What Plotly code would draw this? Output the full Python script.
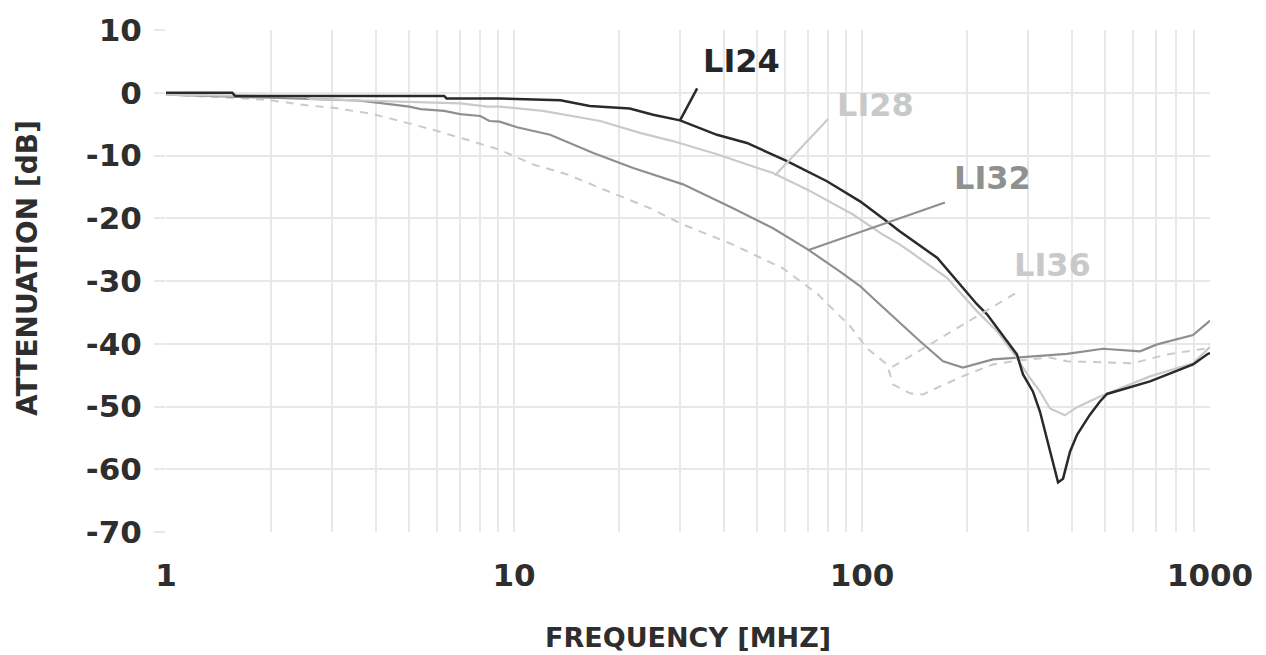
import math
import plotly.graph_objects as go

# ---------------- data (frequency in MHz, attenuation in dB) ----------------
li24_f = [1.0, 1.55, 1.58, 6.3, 6.4, 9.1, 13.6, 16.5, 21.5, 25.1, 30.0, 38.3, 46.7, 60.9, 79.3,
          98.7, 118.0, 128.6, 164.4, 191.3, 213.9, 228.7, 244.3, 266.2, 278.7, 290.2, 309.8,
          324.6, 340.2, 351.6, 365.9, 378.2, 396.0, 414.8, 451.9, 482.8, 505.8, 672.3, 893.8,
          986.8, 1000.0]
li24_db = [0.0, 0.0, -0.5, -0.5, -0.9, -0.9, -1.2, -2.1, -2.5, -3.5, -4.4, -6.7, -8.0, -10.9,
           -14.1, -17.3, -20.5, -22.1, -26.3, -30.6, -33.7, -35.3, -37.4, -40.1, -41.7, -44.9,
           -47.6, -50.8, -55.1, -58.3, -62.1, -61.5, -57.2, -54.5, -51.3, -49.2, -48.0, -46.0,
           -43.3, -41.6, -41.5]

li28_f = [1.0, 2.5, 2.6, 5.0, 7.0, 8.4, 9.1, 12.1, 17.7, 23.0, 28.6, 38.3, 55.5, 69.5, 94.2,
          114.8, 128.6, 137.4, 175.5, 213.9, 244.3, 278.7, 304.0, 324.6, 346.7, 383.0, 414.8,
          482.8, 672.3, 893.8, 986.8, 1000.0]
li28_db = [-0.3, -0.6, -1.0, -1.4, -1.7, -2.2, -2.2, -2.9, -4.5, -6.4, -7.7, -9.8, -12.8, -15.4,
           -19.4, -22.6, -24.2, -25.3, -29.5, -34.8, -38.0, -42.3, -45.5, -47.6, -50.3, -51.4,
           -50.1, -48.4, -45.2, -43.1, -40.7, -40.5]

li32_f = [1.0, 2.5, 3.5, 4.1, 5.0, 5.4, 6.3, 7.0, 8.0, 8.5, 9.1, 10.2, 12.7, 16.9, 22.0, 30.6,
          42.6, 55.5, 70.0, 86.5, 98.7, 110.4, 146.8, 171.0, 195.0, 237.8, 278.7, 388.0,
          492.7, 629.5, 704.6, 893.8, 986.8, 1000.0]
li32_db = [-0.3, -0.9, -1.2, -1.6, -2.2, -2.6, -2.9, -3.4, -3.7, -4.5, -4.6, -5.5, -6.7, -9.6,
           -12.0, -14.6, -18.4, -21.6, -25.0, -28.5, -30.8, -33.3, -39.6, -42.8, -43.8, -42.5,
           -42.2, -41.6, -40.8, -41.2, -40.1, -38.6, -36.6, -36.3]

li36_f = [1.0, 1.56, 2.0, 2.54, 3.02, 3.86, 4.93, 5.85, 7.33, 9.12, 11.3, 14.2, 17.7, 24.6,
          30.6, 42.6, 59.3, 74.3, 92.4, 103.3, 118.0, 122.8, 137.4, 149.6, 167.5, 200.3,
          237.8, 278.7, 346.7, 388.0, 600.6, 751.6, 986.8, 1000.0]
li36_db = [-0.3, -0.8, -1.2, -2.0, -2.4, -3.3, -4.8, -5.9, -7.5, -9.1, -11.4, -13.0, -15.2,
           -18.4, -21.0, -24.2, -28.0, -32.0, -37.2, -40.7, -43.3, -46.5, -47.9, -48.1, -46.8,
           -44.9, -43.3, -42.7, -42.2, -42.8, -43.1, -41.7, -40.7, -40.0]

series_names = ["LI24", "LI28", "LI32", "LI36"]

# label positions (frequency, dB) and leader-line endpoints
label_f = [45.2, 109.7, 237.9, 351.6]
label_db = [5.0, -2.0, -13.6, -27.4]
leader_f = [[33.6, 30.0], [79.9, 56.2], [173.2, 69.9], [275.2, 118.8]]
leader_db = [[0.7, -4.4], [-4.2, -13.2], [-17.5, -25.1], [-32.0, -44.1]]

x_tickvals = [1, 2, 3, 4, 5, 6, 7, 8, 9, 10, 20, 30, 40, 50, 60, 70, 80, 90,
              100, 200, 300, 400, 500, 600, 700, 800, 900, 1000]
x_labels = {1: "1", 10: "10", 100: "100", 1000: "1000"}
y_tickvals = [10, 0, -10, -20, -30, -40, -50, -60, -70]

# ---------------- styles ----------------
colors = ["#2a2a2a", "#c9caca", "#8e8f8f", "#c9caca"]
text_colors = ["#262626", "#c8caca", "#8f9090", "#c8caca"]
widths = [2.5, 2.2, 2.2, 2.0]
dashes = ["solid", "solid", "solid", "8px,7px"]
GRID = "#e8e8ea"
FONT = "DejaVu Sans"
TXT = "#2e2e2e"

fig = go.Figure()
xs = [li24_f, li28_f, li32_f, li36_f]
ys = [li24_db, li28_db, li32_db, li36_db]

# LI36 drawn first so solid curves are on top
for i in [3, 2, 1, 0]:
    fig.add_trace(go.Scatter(x=xs[i], y=ys[i], mode="lines", name=series_names[i],
                             line=dict(color=colors[i], width=widths[i], dash=dashes[i]),
                             showlegend=False, hoverinfo="skip"))

for i in range(4):
    fig.add_trace(go.Scatter(x=leader_f[i], y=leader_db[i], mode="lines",
                             line=dict(color=colors[i], width=widths[i], dash=dashes[i]),
                             showlegend=False, hoverinfo="skip"))

for i in range(4):
    fig.add_annotation(x=math.log10(label_f[i]), y=label_db[i], xref="x", yref="y",
                       text="<b>%s</b>" % series_names[i], showarrow=False,
                       font=dict(family=FONT, size=32, color=text_colors[i]))

fig.add_annotation(x=0.5, y=-0.2092, xref="paper", yref="paper",
                   text="<b>FREQUENCY [MHZ]</b>", showarrow=False,
                   xanchor="center", yanchor="middle", borderpad=0,
                   font=dict(family=FONT, size=27, color=TXT))
fig.add_annotation(x=-0.1322, y=0.526, xref="paper", yref="paper",
                   text="<b>ATTENUATION [dB]</b>", showarrow=False, textangle=-90,
                   xanchor="center", yanchor="middle", borderpad=0,
                   font=dict(family=FONT, size=28, color=TXT))

# the page body adds an 8px offset, so the figure is 8px smaller on each side
fig.update_layout(
    width=1258, height=647,
    margin=dict(l=158, r=56, t=22, b=123),
    paper_bgcolor="white", plot_bgcolor="white",
    font=dict(family=FONT, color=TXT),
    xaxis=dict(type="log", range=[0, 3], tickmode="array", tickvals=x_tickvals,
               ticktext=["<b>%s</b>" % x_labels.get(v, "") for v in x_tickvals],
               showgrid=True, gridcolor=GRID, gridwidth=2, zeroline=False, showline=False,
               ticks="", ticklabelstandoff=22, tickangle=0, automargin=False,
               tickfont=dict(family=FONT, size=31, color=TXT)),
    yaxis=dict(range=[-70, 10], tickmode="array", tickvals=y_tickvals,
               ticktext=["<b>%d</b>" % v for v in y_tickvals],
               showgrid=True, gridcolor=GRID, gridwidth=2, zeroline=False, showline=False,
               ticks="outside", ticklen=11, tickcolor=GRID, tickwidth=2,
               ticklabelstandoff=6, automargin=False,
               tickfont=dict(family=FONT, size=31, color=TXT)),
)

fig.write_html("out.html")
